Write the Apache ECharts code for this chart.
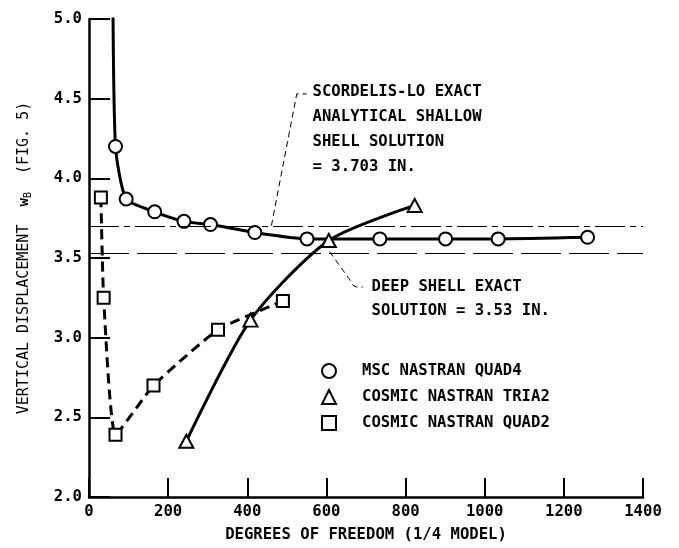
<!DOCTYPE html>
<html><head><meta charset="utf-8">
<script src="https://cdn.jsdelivr.net/npm/echarts@6/dist/echarts.min.js"></script>
<style>html,body{margin:0;padding:0;background:#fff}#c{width:679px;height:548px}</style>
</head><body><div id="c"></div>
<script>
// ---- data ----
const xTickValues = [0, 200, 400, 600, 800, 1000, 1200, 1400];
const yTickValues = [2.0, 2.5, 3.0, 3.5, 4.0, 4.5, 5.0];

const seriesNames = ['MSC NASTRAN QUAD4', 'COSMIC NASTRAN TRIA2', 'COSMIC NASTRAN QUAD2'];

// MSC NASTRAN QUAD4 (circles); first point lies above the plotted range
const quad4Dof = [60, 67, 94, 166, 240, 307, 419, 551, 735, 901, 1034, 1260];
const quad4W   = [5.30, 4.20, 3.87, 3.79, 3.73, 3.71, 3.66, 3.62, 3.62, 3.62, 3.62, 3.63];

// COSMIC NASTRAN TRIA2 (triangles)
const tria2Dof = [246, 408, 606, 823];
const tria2W   = [2.35, 3.11, 3.61, 3.83];

// COSMIC NASTRAN QUAD2 (squares)
const quad2Dof = [30, 37, 67, 163, 326, 490];
const quad2W   = [3.88, 3.25, 2.39, 2.70, 3.05, 3.23];

// reference solutions
const shallowExact = 3.703;
const deepExact = 3.53;

const shallowNote = ['SCORDELIS-LO EXACT', 'ANALYTICAL SHALLOW', 'SHELL SOLUTION', '= 3.703 IN.'];
const deepNote = ['DEEP SHELL EXACT', 'SOLUTION = 3.53 IN.'];

// ---- chart ----
const FONT = '"DejaVu Sans Mono", monospace';
const yMin = yTickValues[0], yMax = yTickValues[yTickValues.length - 1];

function pts(xs, ys) {
  return xs.map((x, i) => {
    const o = { value: [x, ys[i]] };
    if (ys[i] > yMax) o.symbol = 'none';
    return o;
  });
}

const chart = echarts.init(document.getElementById('c'), null, { renderer: 'canvas' });

const hollow = { color: '#fff', borderColor: '#000', borderWidth: 2 };

chart.setOption({
  animation: false,
  backgroundColor: '#fff',
  grid: { left: 89, right: 36, top: 19, bottom: 49, containLabel: false },
  legend: {
    orient: 'vertical',
    left: 316, top: 358,
    itemWidth: 14, itemHeight: 14, itemGap: 10,
    textStyle: { fontFamily: FONT, fontSize: 15.6, fontWeight: 'bold', color: '#000', padding: [0, 0, 0, 21] },
    data: [
      { name: seriesNames[0], icon: 'circle', itemStyle: hollow },
      { name: seriesNames[1], icon: 'triangle', itemStyle: hollow },
      { name: seriesNames[2], icon: 'rect', itemStyle: hollow }
    ]
  },
  xAxis: {
    type: 'value', min: xTickValues[0], max: xTickValues[xTickValues.length - 1], interval: 200,
    name: 'DEGREES OF FREEDOM (1/4 MODEL)', nameLocation: 'middle', nameGap: 30,
    nameTextStyle: { fontFamily: FONT, fontSize: 15.6, fontWeight: 'bold', color: '#000' },
    axisLine: { lineStyle: { color: '#000', width: 2.5 } },
    axisTick: { inside: true, length: 19, lineStyle: { color: '#000', width: 2 } },
    axisLabel: { fontFamily: FONT, fontSize: 15.6, fontWeight: 'bold', color: '#000', margin: 7,
      formatter: v => String(v) },
    splitLine: { show: false }
  },
  yAxis: {
    type: 'value', min: yMin, max: yMax, interval: 0.5,
    name: 'VERTICAL DISPLACEMENT  {w|w}{sub|B}  (FIG. 5)', nameLocation: 'middle', nameGap: 56, nameRotate: 90,
    nameTextStyle: {
      fontFamily: FONT, fontSize: 15, color: '#000',
      rich: {
        w: { fontFamily: FONT, fontSize: 14, fontWeight: 'bold', color: '#000' },
        sub: { fontFamily: FONT, fontSize: 10, color: '#000', verticalAlign: 'bottom', padding: [8, 0, 0, 0] }
      }
    },
    axisLine: { show: true, lineStyle: { color: '#000', width: 2.5 } },
    axisTick: { show: true, inside: true, length: 21, lineStyle: { color: '#000', width: 2 } },
    axisLabel: { fontFamily: FONT, fontSize: 15.6, fontWeight: 'bold', color: '#000', margin: 7,
      formatter: v => v.toFixed(1) },
    splitLine: { show: false }
  },
  series: [
    {
      name: seriesNames[0], type: 'line', data: pts(quad4Dof, quad4W), clip: true,
      symbol: 'circle', symbolSize: 13, smooth: 0.2,
      lineStyle: { color: '#000', width: 3 }, itemStyle: hollow, z: 4,
      markLine: {
        silent: true, symbol: 'none', label: { show: false },
        data: [
          { yAxis: shallowExact, lineStyle: { color: '#000', width: 1, type: [30, 5, 6, 5] } },
          { yAxis: deepExact, lineStyle: { color: '#000', width: 1, type: [40, 8] } }
        ]
      }
    },
    {
      name: seriesNames[1], type: 'line', data: pts(tria2Dof, tria2W),
      symbol: 'triangle', symbolSize: [14, 13], smooth: 0.25,
      lineStyle: { color: '#000', width: 3 }, itemStyle: hollow, z: 5
    },
    {
      name: seriesNames[2], type: 'line', data: pts(quad2Dof, quad2W),
      symbol: 'rect', symbolSize: 12, smooth: 0.15,
      lineStyle: { color: '#000', width: 3, type: [10, 6] }, itemStyle: hollow, z: 3
    }
  ]
});

// ---- annotations anchored to data coordinates ----
const P = (x, y) => chart.convertToPixel({ gridIndex: 0 }, [x, y]);
const txt = { fontFamily: FONT, fontSize: 15.6, fontWeight: 'bold', fill: '#000', textVerticalAlign: 'middle', textAlign: 'left' };
const graphics = [];

const sAnchor = P(565, 4.54);
shallowNote.forEach((t, i) => graphics.push({ type: 'text', x: sAnchor[0], y: sAnchor[1] + i * 25, style: Object.assign({ text: t }, txt) }));
graphics.push({ type: 'polyline', shape: { points: [P(461, shallowExact), P(525, 4.53), P(550, 4.53)] },
  style: { stroke: '#000', lineWidth: 1, lineDash: [6, 4], fill: null } });

const dAnchor = P(714, 3.318);
deepNote.forEach((t, i) => graphics.push({ type: 'text', x: dAnchor[0], y: dAnchor[1] + i * 23.5, style: Object.assign({ text: t }, txt) }));
graphics.push({ type: 'polyline', shape: { points: [P(608, 3.54), P(660, 3.36), P(667, 3.328), P(676, 3.318), P(692, 3.318)] },
  style: { stroke: '#000', lineWidth: 1, lineDash: [6, 4], fill: null } });

chart.setOption({ graphic: graphics });
</script>
</body></html>
